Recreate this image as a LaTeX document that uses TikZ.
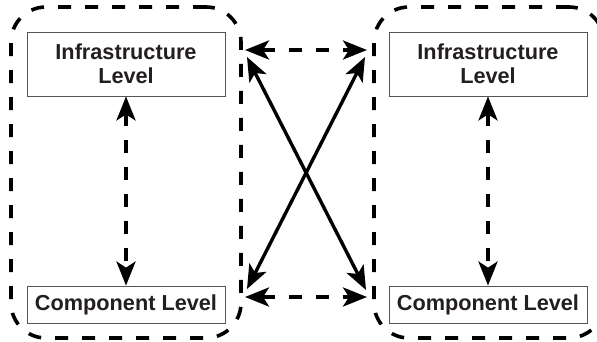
\documentclass[tikz,border=0pt]{standalone}
\usepackage{fontspec}
\setmainfont{Liberation Sans}
\usetikzlibrary{arrows.meta}
\definecolor{txt}{HTML}{231F20}
\definecolor{bord}{HTML}{555555}
\begin{document}
\begin{tikzpicture}[x=1pt,y=-1pt,
  level/.style={draw=bord, line width=0.8pt, fill=white, minimum width=198pt,
    text=txt, font=\fontsize{21.7}{24}\selectfont\bfseries, align=center, inner sep=0pt},
  group/.style={draw, line width=3.6pt, dash pattern=on 13pt off 14pt, rounded corners=35pt,
    minimum width=230pt, minimum height=331pt, inner sep=0pt},
  tip/.style={Stealth[length=24pt,width=19pt,inset=6pt]},
  darr/.style={line width=3.6pt, dash pattern=on 13pt off 14pt, {Stealth[length=24pt,width=19pt,inset=6pt]}-{Stealth[length=24pt,width=19pt,inset=6pt]}},
  sarr/.style={line width=3.4pt, {Stealth[length=24pt,width=19pt,inset=6pt]}-{Stealth[length=24pt,width=19pt,inset=6pt]}}]
\useasboundingbox (0,0) rectangle (597,342);
\fill[white] (0,0) rectangle (597,342);
% groups
\node[group] (gl) at (126,172.5) {};
\node[group] (gr) at (489,172.5) {};
% level boxes
\node[level, minimum height=64pt] (li) at (126,64) {Infrastructure\\Level};
\node[level, minimum height=37pt] (lc) at (126,304.5) {Component Level};
\node[level, minimum height=64pt] (ri) at (488,64) {Infrastructure\\Level};
\node[level, minimum height=37pt] (rc) at (488,304.5) {Component Level};
% connector end points
\coordinate (ht1) at (245,50);
\coordinate (ht2) at (367,50);
\coordinate (hb1) at (245,297);
\coordinate (hb2) at (367,297);
\coordinate (xa1) at (247,57);
\coordinate (xb1) at (366,290);
\coordinate (xa2) at (247,289);
\coordinate (xb2) at (365,57);
% connectors
\draw[darr] (li.south) -- (lc.north);
\draw[darr] (ri.south) -- (rc.north);
\draw[darr] (ht1) -- (ht2);
\draw[darr] (hb1) -- (hb2);
\draw[sarr] (xa1) -- (xb1);
\draw[sarr] (xa2) -- (xb2);
\end{tikzpicture}
\end{document}
